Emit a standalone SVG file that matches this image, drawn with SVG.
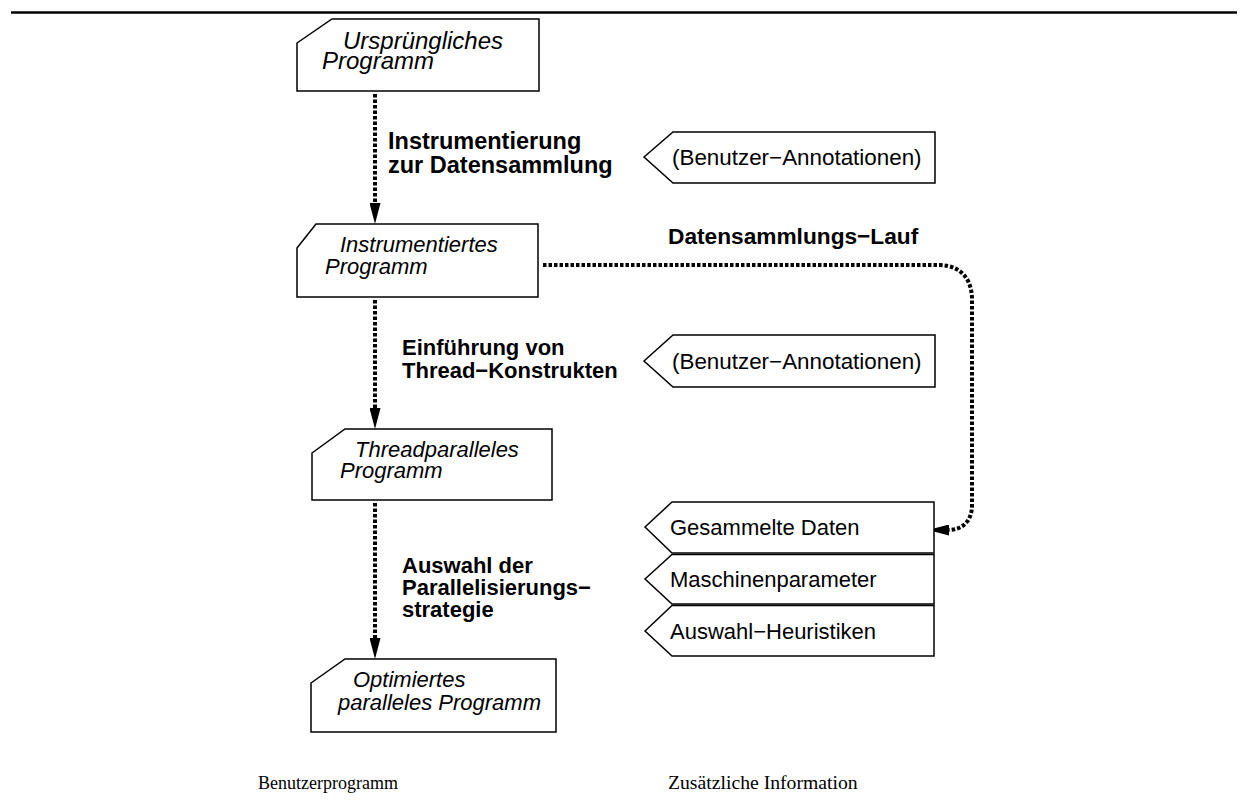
<svg xmlns="http://www.w3.org/2000/svg" width="1248" height="806" viewBox="0 0 1248 806">
<defs>
<style>
.box{fill:#fff;stroke:#000;stroke-width:1.5}
.it{font-family:"Liberation Sans",Arial,sans-serif;font-style:italic;font-size:22px;fill:#000}
.bd{font-family:"Liberation Sans",Arial,sans-serif;font-weight:bold;font-size:22px;fill:#000}
.rg{font-family:"Liberation Sans",Arial,sans-serif;font-size:22px;fill:#000}
.sf{font-family:"Liberation Serif","Times New Roman",serif;font-size:18px;fill:#000}
.dot{fill:none;stroke:#000;stroke-width:4;stroke-dasharray:3.5 2}
</style>
<marker id="ah" viewBox="0 0 21 11" refX="0" refY="5.5" markerWidth="21" markerHeight="11" markerUnits="userSpaceOnUse" orient="auto">
<path d="M0,0 L21,5.5 L0,11 Z" fill="#000"/>
</marker>
</defs>
<rect width="1248" height="806" fill="#fff"/>
<line x1="11" y1="12.5" x2="1237" y2="12.5" stroke="#000" stroke-width="2.5"/>

<g id="connectors">
<line class="dot" x1="375" y1="94" x2="375" y2="203" marker-end="url(#ah)"/>
<line class="dot" x1="375" y1="300" x2="375" y2="408" marker-end="url(#ah)"/>
<line class="dot" x1="375" y1="503" x2="375" y2="638" marker-end="url(#ah)"/>
<path class="dot" d="M543,265 L940,265 C962,266 972,280 972,300 L972,505 C972,522 962,529 950,530 L949,530" marker-end="url(#ah)"/>
</g>

<g id="node-ursprung">
<path class="box" d="M297,43 L332,19 L539,19 L539,91 L297,91 Z"/>
<text class="it" x="343" y="49" style="font-size:24px">Ursprüngliches</text>
<text class="it" x="322" y="69" style="font-size:24px">Programm</text>
</g>
<g id="node-instrumentiert">
<path class="box" d="M297,248 L316,224 L538,224 L538,297 L297,297 Z"/>
<text class="it" x="340" y="252">Instrumentiertes</text>
<text class="it" x="325" y="274">Programm</text>
</g>
<g id="node-threadparallel">
<path class="box" d="M312,453 L345,429 L552,429 L552,500 L312,500 Z"/>
<text class="it" x="355" y="457">Threadparalleles</text>
<text class="it" x="340" y="478">Programm</text>
</g>
<g id="node-optimiert">
<path class="box" d="M311,683 L345,659 L556,659 L556,732 L311,732 Z"/>
<text class="it" x="353" y="687">Optimiertes</text>
<text class="it" x="338" y="710">paralleles Programm</text>
</g>

<g id="label-instrumentierung">
<text class="bd" x="388" y="149" style="font-size:23.5px">Instrumentierung</text>
<text class="bd" x="388" y="173" style="font-size:23.5px">zur Datensammlung</text>
</g>
<g id="label-einfuehrung">
<text class="bd" x="402" y="355">Einführung von</text>
<text class="bd" x="402" y="378">Thread−Konstrukten</text>
</g>
<g id="label-auswahl">
<text class="bd" x="402" y="573">Auswahl der</text>
<text class="bd" x="402" y="595">Parallelisierungs−</text>
<text class="bd" x="402" y="617">strategie</text>
</g>
<g id="label-lauf">
<text class="bd" x="668" y="244" style="font-size:22.7px">Datensammlungs−Lauf</text>
</g>

<g id="annot-1">
<path class="box" d="M644,157 L673,132 L935,132 L935,183 L673,183 Z"/>
<text class="rg" x="672" y="165" style="font-size:22.4px">(Benutzer−Annotationen)</text>
</g>
<g id="annot-2">
<path class="box" d="M644,361 L673,335 L935,335 L935,387 L673,387 Z"/>
<text class="rg" x="672" y="369" style="font-size:22.4px">(Benutzer−Annotationen)</text>
</g>

<g id="info-gesammelt">
<path class="box" d="M645,527 L672,502 L934,502 L934,553 L672,553 Z"/>
<text class="rg" x="670" y="535">Gesammelte Daten</text>
</g>
<g id="info-maschine">
<path class="box" d="M645,579 L672,554.5 L934,554.5 L934,604 L672,604 Z"/>
<text class="rg" x="670" y="587">Maschinenparameter</text>
</g>
<g id="info-heuristik">
<path class="box" d="M645,631 L672,605.5 L934,605.5 L934,656 L672,656 Z"/>
<text class="rg" x="670" y="639">Auswahl−Heuristiken</text>
</g>

<g id="footer">
<text class="sf" x="258" y="789">Benutzerprogramm</text>
<text class="sf" x="668" y="789" style="font-size:19.7px">Zusätzliche Information</text>
</g>
</svg>
